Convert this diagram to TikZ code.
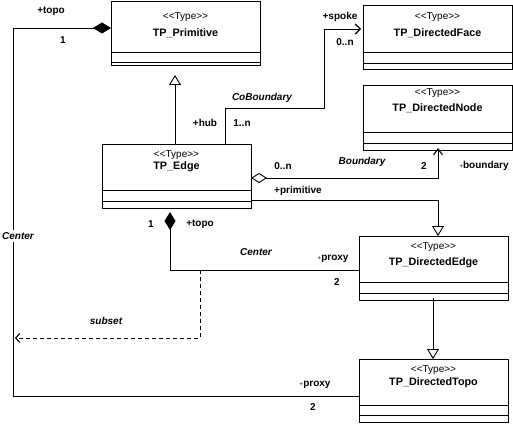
\documentclass[tikz,border=0pt]{standalone}
\usepackage{fontspec}
\setmainfont{Liberation Sans}
\usetikzlibrary{arrows.meta}
\tikzset{
  clsbox/.style={draw, line width=0.9pt, inner sep=0pt, outer sep=0pt, anchor=north west},
  cline/.style={line width=0.9pt},
  stereo/.style={font=\fontsize{10}{12}\selectfont, inner sep=0pt},
  cname/.style={font=\fontsize{10.8}{13}\selectfont\bfseries, inner sep=0pt},
  lbl/.style={font=\fontsize{10}{12}\selectfont\bfseries, inner sep=0pt},
  ilbl/.style={font=\fontsize{10}{12}\selectfont\bfseries\itshape, inner sep=0pt},
  conn/.style={line width=0.9pt},
  fdiam/.style={{Diamond[length=18pt,width=11pt]}-},
  gen/.style={-{Triangle[open,length=10pt,width=12pt]}},
  nav/.style={-{Straight Barb[length=5pt,width=10pt,line width=1.1pt]}},
}
\newcommand{\umlbox}[9]{%
  \node[clsbox, minimum width={#4pt-#2pt}, minimum height={#5pt-#3pt}] (#1) at (#2,#3) {};
  \draw[cline] (#1.west |- 0,#6) -- (#1.east |- 0,#6);
  \draw[cline] (#1.west |- 0,#7) -- (#1.east |- 0,#7);
  \node[stereo] (#1-st) at ({(#2+#4)/2},#8) {<\kern0pt<Type>\kern0pt>};
  \node[cname] (#1-nm) at ({(#2+#4)/2},#9) {TP\_#1};
}
\newcommand{\smallplus}{{\fontsize{6.5}{7}\selectfont\mdseries +}}
\begin{document}
\begin{tikzpicture}[x=1pt,y=-1pt]
\useasboundingbox (0,0) rectangle (513,425);
% classes
\umlbox{Primitive}{111}{1}{260}{65}{52}{62}{17}{33}
\umlbox{DirectedFace}{363}{5}{512}{69}{52}{63}{17}{33}
\umlbox{DirectedNode}{363}{85}{512}{150}{132}{143}{93}{108}
\umlbox{Edge}{102}{144}{251}{208}{190}{201}{155}{167}
\umlbox{DirectedEdge}{359}{236}{508}{300}{282}{293}{247}{263}
\umlbox{DirectedTopo}{359}{359}{508}{422}{405}{415}{370}{383}
% left Center association (Primitive -- DirectedTopo)
\draw[conn, fdiam] (Primitive.west |- 0,28) -- (13,28) -- (13,396) -- (DirectedTopo.west |- 0,396);
\node[ilbl, fill=white, inner sep=2pt] (cleft) at (18,236) {Center};
\node[lbl] (l1) at (51,11) {+topo};
\node[lbl] (l2) at (63,40) {1};
\node[lbl] (l3) at (315,385) {\smallplus proxy};
\node[lbl] (l4) at (313,407) {2};
% Edge -> Primitive generalization
\coordinate (gp) at (175,75);
\draw[conn, gen] (Edge.north -| gp) -- (gp);
% CoBoundary
\draw[conn, nav] (Edge.north -| 225,0) -- (225,108) -- (324,108) -- (324,29) -- ([xshift=-2pt]DirectedFace.west |- 0,29);
\node[lbl] (l5) at (205,123) {+hub};
\node[lbl] (l6) at (242,123) {1..n};
\node[ilbl] (l7) at (262,98) {CoBoundary};
\node[lbl] (l8) at (340,17) {+spoke};
\node[lbl] (l9) at (345,42) {0..n};
% Boundary
\draw[conn, {Diamond[open,length=16pt,width=10pt]}-{Straight Barb[length=6pt,width=9pt,line width=1.1pt]}] (Edge.east |- 0,178) -- (438,178) -- ([yshift=2pt]DirectedNode.south -| 438,0);
\node[lbl] (l10) at (283,166) {0..n};
\node[ilbl] (l11) at (362,162) {Boundary};
\node[lbl] (l12) at (424,166) {2};
\node[lbl] (l13) at (484,166) {\smallplus boundary};
\node[lbl] (l14) at (298,191) {+primitive};
% Edge -> DirectedEdge generalization
\draw[conn, gen] (Edge.east |- 0,200) -- (438,200) -- (DirectedEdge.north -| 438,0);
% Edge -- DirectedEdge Center
\coordinate (ed) at (170,212);
\draw[conn, fdiam] (ed) -- (170,270) -- (DirectedEdge.west |- 0,270);
\node[lbl] (l15) at (151,224) {1};
\node[lbl] (l16) at (200,224) {+topo};
\node[ilbl] (l17) at (256,252) {Center};
\node[lbl] (l18) at (333,259) {\smallplus proxy};
\node[lbl] (l19) at (337,282) {2};
% subset dependency
\coordinate (sj) at (200,270);
\draw[conn, dashed, dash pattern=on 4pt off 3pt, -{Straight Barb[length=4pt,width=9pt,line width=1.1pt]}] (sj) -- (200,338) -- (15,338);
\node[ilbl] (l20) at (106,321) {subset};
% DirectedEdge -> DirectedTopo generalization
\draw[conn, gen] ([yshift=2pt]DirectedEdge.south -| 433,0) -- (DirectedTopo.north -| 433,0);
\end{tikzpicture}
\end{document}
